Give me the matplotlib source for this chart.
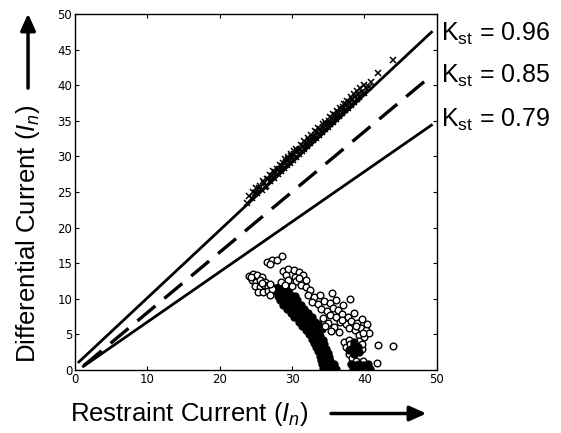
import matplotlib
matplotlib.use("Agg")
import matplotlib.pyplot as plt

plt.rcParams['font.family'] = ['Liberation Sans', 'DejaVu Sans']
plt.rcParams['mathtext.fontset'] = 'custom'
plt.rcParams['mathtext.rm'] = 'Liberation Sans'
plt.rcParams['mathtext.it'] = 'Liberation Sans:italic'

# characteristic lines: ([x start, x end], [y start, y end])
upper_line = ([0.4, 49.4], [1.0, 47.6])
mid_line = ([1.2, 49.3], [0.6, 41.4])
lower_line = ([1.0, 49.4], [0.4, 34.5])

slope_labels = ["0.96", "0.85", "0.79"]
label_y = [47.2, 41.3, 35.1]

# external faults (crosses)
cross_x = [23.8, 24.1, 24.5, 24.9, 25.2, 25.4, 25.8, 26.1, 26.2, 26.4, 26.7, 27.0,
           27.2, 27.3, 27.5, 27.7, 28.0, 28.2, 28.4, 28.5, 28.6, 28.9, 29.1, 29.3,
           29.5, 29.7, 29.9, 30.0, 30.1, 30.3, 30.5, 30.7, 30.9, 31.0, 31.1, 31.3,
           31.5, 31.7, 31.9, 32.0, 32.1, 32.3, 32.5, 32.7, 32.9, 33.0, 33.1, 33.3,
           33.5, 33.7, 33.9, 34.0, 34.1, 34.3, 34.5, 34.7, 34.9, 35.0, 35.1, 35.3,
           35.5, 35.7, 35.9, 36.0, 36.1, 36.3, 36.5, 36.7, 36.9, 37.0, 37.1, 37.3,
           37.5, 37.7, 37.9, 38.0, 38.1, 38.3, 38.5, 38.7, 38.9, 39.1, 39.3, 39.6,
           39.9, 40.2, 40.6, 40.9, 41.9, 43.9]
cross_y = [23.5, 24.4, 24.1, 24.9, 24.8, 25.6, 25.3, 26.2, 25.7, 25.9, 26.8, 26.6,
           27.3, 27.1, 27.0, 27.8, 27.5, 28.3, 27.9, 28.2, 28.7, 28.4, 29.2, 28.8,
           29.6, 29.1, 30.0, 29.8, 29.5, 30.3, 29.9, 30.7, 30.3, 30.9, 31.1, 30.7,
           31.5, 31.0, 31.9, 31.7, 31.5, 32.3, 31.9, 32.6, 32.3, 32.8, 33.0, 32.6,
           33.4, 33.0, 33.8, 33.6, 33.4, 34.2, 33.8, 34.6, 34.1, 34.6, 35.0, 34.5,
           35.4, 34.9, 35.8, 35.6, 35.3, 36.2, 35.7, 36.5, 36.1, 36.6, 36.9, 36.5,
           37.3, 36.8, 37.7, 37.5, 37.2, 38.0, 37.6, 38.4, 38.0, 38.8, 38.3, 39.1,
           38.9, 39.6, 39.8, 40.4, 41.7, 43.6]
cross_x2 = [24.6, 25.0, 25.5, 26.0, 26.5, 26.9, 27.4, 27.9, 28.3, 28.7, 29.0, 29.4,
            29.8, 30.2, 30.6, 31.2, 31.6, 32.2, 32.6, 33.2, 33.6, 34.2, 34.6, 35.2,
            35.6, 36.2, 36.6, 37.2, 37.6, 38.2, 38.6, 39.0, 39.4, 40.0]
cross_y2 = [25.0, 25.6, 25.9, 26.5, 26.9, 27.4, 27.9, 28.3, 28.8, 29.1, 29.6, 29.9,
            30.3, 30.7, 31.1, 31.6, 32.1, 32.6, 33.0, 33.6, 34.0, 34.5, 34.9, 35.5,
            35.9, 36.4, 36.8, 37.4, 37.8, 38.4, 38.8, 39.2, 39.6, 40.1]

# internal faults (circles), grouped by where they sit
circles_top = [(26.5, 15.2), (27.2, 15.5), (27.9, 15.4), (28.6, 16.0), (27.0, 14.9),
               (28.8, 13.9), (29.5, 14.2), (30.2, 14.1), (30.9, 13.8), (29.1, 13.3),
               (31.5, 13.3), (30.4, 13.0), (31.9, 12.6), (30.5, 12.5), (31.2, 12.0),
               (31.9, 11.6), (32.5, 11.2), (30.0, 11.8), (29.5, 12.6), (28.4, 12.3),
               (29.0, 12.0), (31.0, 12.9)]
circles_left = [(24.0, 13.2), (24.6, 13.5), (25.2, 13.3), (25.8, 13.0), (24.4, 12.6),
                (25.0, 12.4), (25.6, 12.7), (26.3, 12.4), (24.9, 11.8), (25.5, 11.6),
                (26.1, 11.9), (26.7, 11.6), (25.3, 11.0), (26.0, 10.9), (26.6, 11.1),
                (27.2, 11.4), (27.0, 10.6), (24.3, 13.0), (25.9, 12.2), (26.9, 12.1)]
# overlapping points of the dense streak (they print as solid black)
circles_streak = [(27.6, 11.5), (28.2, 11.6), (28.8, 11.3), (27.9, 11.0), (28.5, 10.9),
                  (29.1, 11.1), (29.6, 10.8), (28.0, 10.4), (28.6, 10.3), (29.2, 10.5),
                  (29.8, 10.2), (30.4, 10.4), (28.3, 9.8), (28.9, 9.7), (29.5, 9.9),
                  (30.1, 9.6), (30.7, 9.8), (28.8, 9.2), (29.4, 9.1), (30.0, 9.3),
                  (30.6, 9.0), (31.2, 9.2), (29.3, 8.6), (29.9, 8.5), (30.5, 8.7),
                  (31.1, 8.4), (31.7, 8.6), (29.8, 8.0), (30.4, 7.9), (31.0, 8.1),
                  (31.6, 7.8), (32.2, 8.0), (30.3, 7.4), (30.9, 7.3), (31.5, 7.5),
                  (32.1, 7.2), (32.7, 7.4), (30.9, 6.8), (31.5, 6.7), (32.1, 6.9),
                  (32.7, 6.6), (33.2, 6.8), (31.4, 6.2), (32.0, 6.1), (32.6, 6.3),
                  (33.1, 6.0), (31.9, 5.6), (32.5, 5.5), (33.0, 5.7), (33.5, 5.4),
                  (32.3, 5.0), (32.9, 4.9), (33.4, 5.1), (33.9, 4.8), (32.7, 4.4),
                  (33.2, 4.3), (33.7, 4.5), (34.2, 4.2), (33.0, 3.8), (33.5, 3.7),
                  (34.0, 3.9), (34.4, 3.6), (33.3, 3.2), (33.8, 3.1), (34.3, 3.3),
                  (34.7, 3.0), (33.6, 2.6), (34.1, 2.5), (34.5, 2.7), (34.9, 2.4),
                  (33.8, 2.0), (34.3, 1.9), (34.7, 2.1), (35.1, 1.8), (34.0, 1.4),
                  (34.5, 1.3), (34.9, 1.5), (35.3, 1.2), (34.1, 0.8), (34.6, 0.7),
                  (35.0, 0.9), (35.4, 0.6), (35.8, 0.8), (34.3, 0.2), (34.8, 0.3),
                  (35.2, 0.1), (35.6, 0.3), (36.0, 0.2), (33.6, 6.4), (34.1, 5.8)]
# dense clusters low on the right (also print as solid black)
circles_low_dense = [(38.1, 0.9), (38.7, 0.7), (39.3, 0.9), (39.9, 0.7), (40.5, 0.8),
                     (38.4, 0.2), (39.0, 0.3), (39.6, 0.2), (40.2, 0.3), (40.7, 0.2),
                     (38.5, 3.5), (39.1, 3.2), (38.2, 3.0), (38.9, 2.6), (38.5, 2.2),
                     (39.2, 2.5), (38.6, 3.9), (37.9, 2.8)]
circles_right = [(32.2, 10.6), (33.0, 10.2), (33.8, 10.5), (32.8, 9.6), (33.6, 9.3),
                 (34.4, 9.7), (35.2, 9.4), (34.0, 8.6), (34.8, 8.3), (35.6, 8.7),
                 (36.4, 8.4), (35.3, 7.7), (36.1, 7.4), (36.9, 7.8), (37.7, 7.5),
                 (36.6, 6.8), (37.4, 6.5), (38.2, 6.9), (39.0, 6.6), (37.9, 5.9),
                 (38.7, 5.6), (39.5, 5.9), (40.2, 5.6), (39.2, 4.9), (40.0, 4.7),
                 (40.6, 5.2), (36.0, 9.9), (37.0, 9.1), (38.5, 8.0), (39.6, 7.1),
                 (40.4, 6.4), (35.5, 10.8), (38.0, 10.0), (41.9, 3.5), (43.9, 3.4),
                 (41.7, 1.0), (34.3, 7.3), (35.0, 6.6), (35.8, 6.0),
                 (36.5, 5.4), (34.6, 6.2), (35.4, 5.5), (36.9, 7.0),
                 (38.8, 6.2), (39.8, 5.2)]
circles_low = [(37.2, 4.0), (37.9, 4.2), (39.3, 4.1), (37.5, 3.3), (39.6, 3.0),
               (37.8, 2.2), (38.3, 1.7), (38.8, 1.3), (39.8, 1.3), (38.0, 3.6),
               (39.7, 3.7)]

fig = plt.figure(figsize=(5.61, 4.33), dpi=100)
ax = fig.add_axes([0.1337, 0.1455, 0.645, 0.822])

ax.plot(upper_line[0], upper_line[1], color='black', lw=2.0, solid_capstyle='butt')
ax.plot(mid_line[0], mid_line[1], color='black', lw=2.4, dashes=(7, 3.5))
ax.plot(lower_line[0], lower_line[1], color='black', lw=2.0, solid_capstyle='butt')

ax.plot(cross_x, cross_y, 'x', color='black', ms=4.5, mew=1.1)
ax.plot(cross_x2, cross_y2, 'x', color='black', ms=4.5, mew=1.1)

ax.plot([p[0] for p in circles_streak], [p[1] for p in circles_streak], 'o',
        mfc='black', mec='black', ms=5.0, mew=1.0)
for group in [circles_top, circles_left, circles_right, circles_low]:
    gx = [p[0] for p in group]
    gy = [p[1] for p in group]
    ax.plot(gx, gy, 'o', mfc='white', mec='black', ms=4.8, mew=1.0)
ax.plot([p[0] for p in circles_low_dense], [p[1] for p in circles_low_dense], 'o',
        mfc='black', mec='black', ms=5.0, mew=1.0)

ax.set_xlim(0, 50)
ax.set_ylim(0, 50)
ax.set_xticks([0, 10, 20, 30, 40, 50])
ax.set_yticks(range(0, 51, 5))
ax.tick_params(direction='in', length=3, width=0.8, top=True, right=True,
               labelsize=8.5, pad=2)
for lab in ax.get_xticklabels() + ax.get_yticklabels():
    lab.set_family(['Liberation Sans Narrow', 'DejaVu Sans'])
for sp in ax.spines.values():
    sp.set_linewidth(1.0)

for txt, yy in zip(slope_labels, label_y):
    ax.text(50.6, yy, r"K$_{\mathrm{st}}$ = " + txt, fontsize=18,
            ha='left', va='center', clip_on=False)

fig.text(0.337, 0.045, r"Restraint Current ($\mathit{I_n}$)", fontsize=18.5,
         ha='center', va='center')
fig.text(0.05, 0.46, r"Differential Current ($\mathit{I_n}$)", fontsize=18.5,
         ha='center', va='center', rotation=90)

arrow = dict(arrowstyle='-|>,head_length=1.0,head_width=0.45', color='black', lw=2.5)
ax.annotate('', xy=(0.765, 0.045), xytext=(0.585, 0.045),
            xycoords='figure fraction', arrowprops=arrow)
ax.annotate('', xy=(0.05, 0.975), xytext=(0.05, 0.79),
            xycoords='figure fraction', arrowprops=arrow)

fig.savefig("out.png", dpi=100)
